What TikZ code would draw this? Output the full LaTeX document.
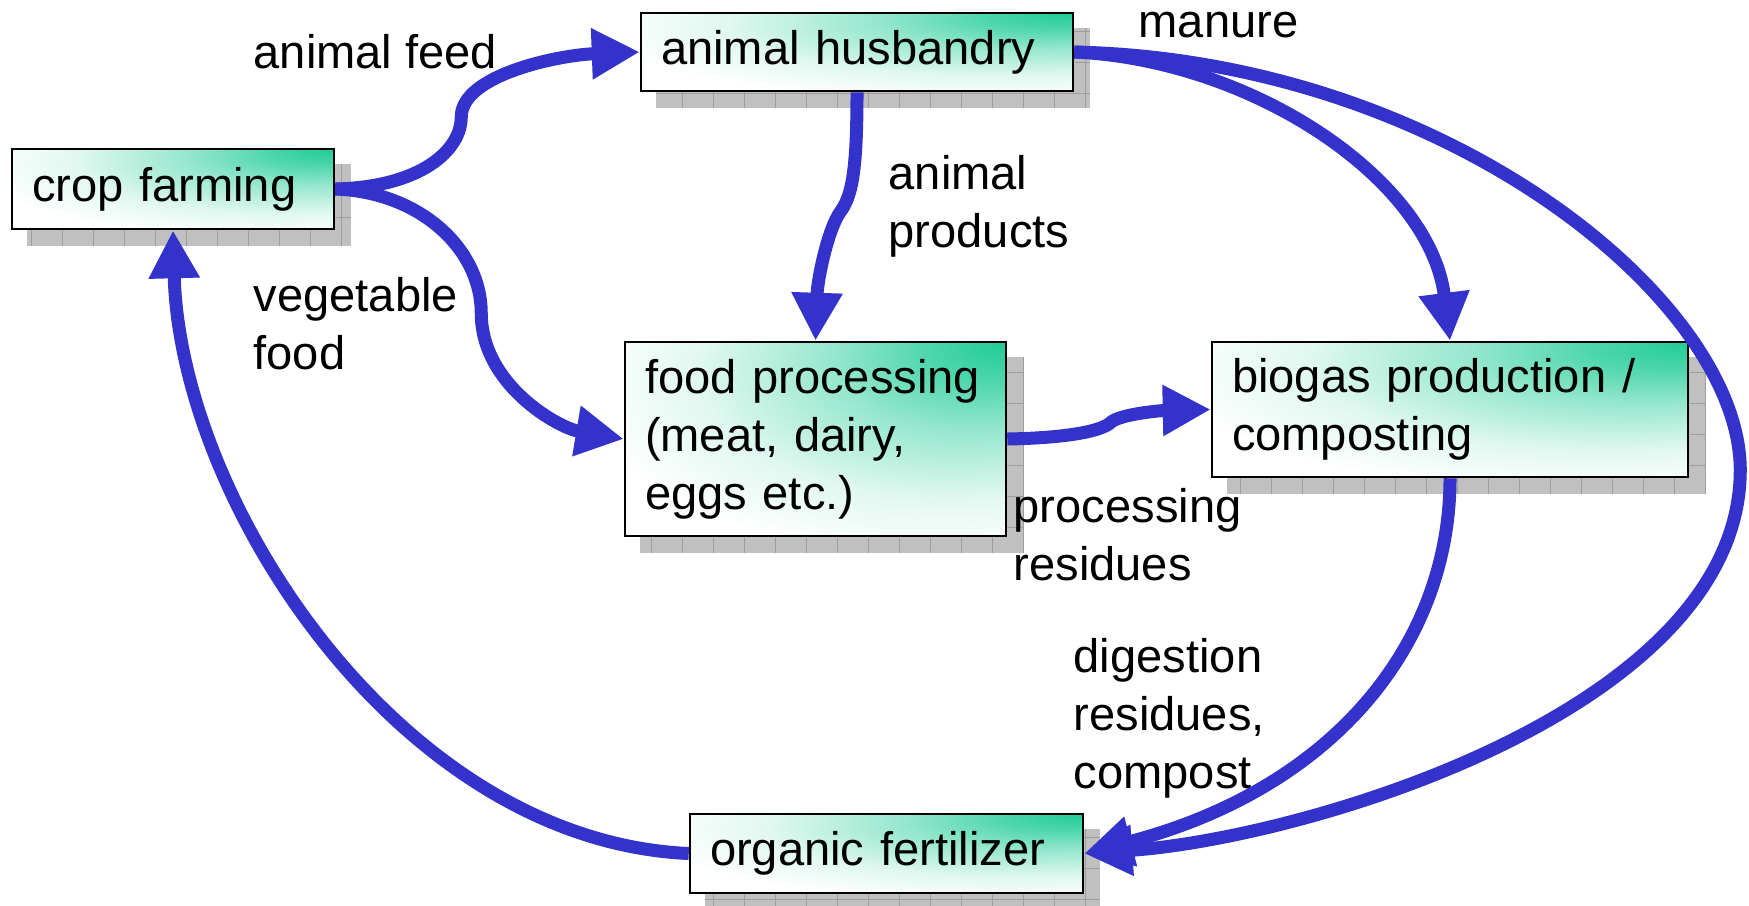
\documentclass[tikz,border=0pt]{standalone}
\usepackage{fontspec}
\setmainfont{Liberation Sans}
\usetikzlibrary{arrows.meta,backgrounds}
\definecolor{flowblue}{RGB}{51,51,204}
\definecolor{boxgreen}{RGB}{32,204,150}
\definecolor{shadowgray}{RGB}{192,192,192}
\definecolor{gridgray}{RGB}{158,158,158}
\pgfdeclareradialshading{cornerglow}{\pgfpoint{25bp}{25bp}}{%
  color(0bp)=(boxgreen); color(8bp)=(boxgreen!80!white);
  color(18bp)=(boxgreen!48!white); color(32bp)=(boxgreen!14!white);
  color(44bp)=(white); color(100bp)=(white)}

\begin{document}
\begin{tikzpicture}[
  x=0.1mm, y=-0.1mm,
  lbl/.style={font=\fontsize{13.4}{16.5}\selectfont, align=left, inner sep=0pt, anchor=base west},
  stage/.style={draw=black, line width=0.25mm, shading=cornerglow, font=\fontsize{13.4}{16.5}\selectfont, align=left, inner xsep=2mm, inner ysep=0pt},
  flow/.style={draw=flowblue, line width=1.3mm, -{Triangle[length=4.8mm,width=4.8mm]}}
]
\useasboundingbox (0,0) rectangle (1749,905);

\node[stage, text width=28.2mm, minimum height=8mm] (crop) at (173,189) {crop farming};
\node[stage, text width=39.2mm, minimum height=7.8mm] (husb) at (857,52) {animal husbandry};
\node[stage, text width=34.1mm, minimum height=19.4mm] (food) at (815.5,439) {food processing\\(meat, dairy,\\eggs etc.)};
\node[stage, text width=43.6mm, minimum height=13.5mm] (bio) at (1450,409.5) {biogas production /\\composting};
\node[stage, text width=35.3mm, minimum height=7.9mm] (fert) at (886.5,853.5) {organic fertilizer};

% gridded shadows behind the boxes
\begin{scope}[on background layer]
  \foreach \n in {crop,husb,food,bio,fert}{
    \fill[shadowgray] ([shift={(16,16)}]\n.south west) rectangle ([shift={(16,16)}]\n.north east);
    \draw[gridgray, line width=0.1mm, step=3.1mm] ([shift={(16,16)}]\n.south west) grid ([shift={(16,16)}]\n.north east);
  }
\end{scope}

% labels, anchored at the baseline of their last line
\node[lbl] (feedlbl) at (253,68) {animal feed};
\node[lbl] (manurelbl) at (1138,37) {manure};
\node[lbl] (prodlbl) at (888,247) {animal\\products};
\node[lbl] (veglbl) at (253,369) {vegetable\\food};
\node[lbl] (reslbl) at (1013,580) {processing\\residues};
\node[lbl] (diglbl) at (1073,788) {digestion\\residues,\\compost};

\draw[flow] (crop.east) .. controls +(86,-2) and +(0,33) .. ++(126,-72)
  .. controls +(0,-42) and +(-81,3) .. (husb.west);
\draw[flow] (crop.east) .. controls +(86,3) and +(0,-63) .. ++(146,124)
  .. controls +(0,72) and +(-65,-11) .. (food.west);
\draw[flow] (husb.south) .. controls +(0,79) and +(12,-16) .. ++(-17,120)
  .. controls +(-12,17) and +(2,-62) .. (food.north);
\draw[flow] (food.east) .. controls +(55,-1) and +(-10,10) .. ++(104,-17)
  .. controls +(10,-8) and +(-50,1) .. (bio.west);
\draw[flow] (husb.east) .. controls +(180,8) and +(-20,-160) .. (bio.north);
\draw[flow] (husb.east) .. controls +(370,8) and +(0,-170) .. ++(666,418)
  .. controls +(0,240) and +(220,-15) .. (fert.east);
\draw[flow] (bio.south) .. controls +(0,165) and +(250,-65) .. (fert.east);
\draw[flow] (fert.west) .. controls +(-290,-13) and +(7,270) .. (crop.south);
\end{tikzpicture}
\end{document}
